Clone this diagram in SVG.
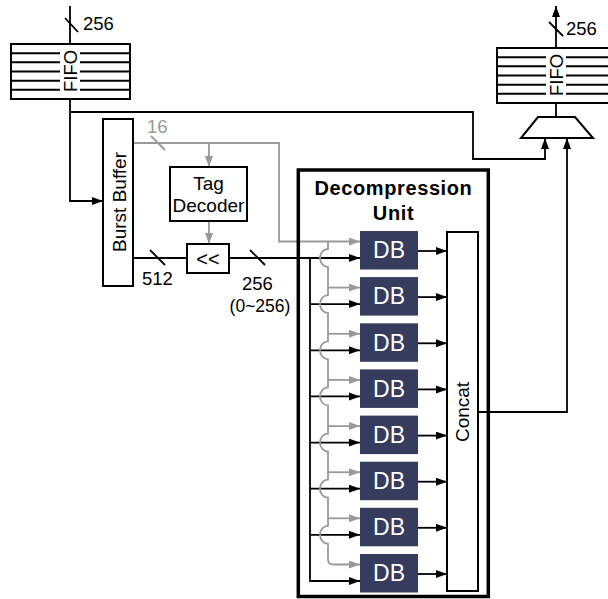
<svg xmlns="http://www.w3.org/2000/svg" width="608" height="599" viewBox="0 0 608 599">
<style>
text{font-family:"Liberation Sans",Arial,sans-serif;}
.lbl{font-size:18.5px;fill:#000;}
.glbl{font-size:18.5px;fill:#999;}
.box{fill:#fff;stroke:#000;stroke-width:2;}
.ln{fill:none;stroke:#000;stroke-width:1.8;}
.gln{fill:none;stroke:#999;stroke-width:1.8;}
.fl{stroke:#000;stroke-width:2;}
.db{fill:#353c5e;}
.dbt{font-size:23px;fill:#fff;text-anchor:middle;}
.ctr{text-anchor:middle;}
</style>
<defs>
<marker id="ab" markerUnits="userSpaceOnUse" markerWidth="12" markerHeight="9" refX="11" refY="4" orient="auto"><path d="M0,0 L11,4 L0,8 z" fill="#000"/></marker>
<marker id="ag" markerUnits="userSpaceOnUse" markerWidth="12" markerHeight="9" refX="11" refY="4" orient="auto"><path d="M0,0 L11,4 L0,8 z" fill="#999"/></marker>
</defs>

<g id="connectors">
  <line class="ln" x1="70" y1="6" x2="70" y2="44"/>
  <line class="ln" x1="65" y1="18" x2="78" y2="32"/>
  <text class="lbl" x="83" y="30">256</text>
  <path class="ln" d="M70,99 V201 H103" marker-end="url(#ab)"/>
  <path class="ln" d="M70,112 H473 V159 H545 V138" marker-end="url(#ab)"/>
  <line class="ln" x1="556" y1="103" x2="556" y2="117"/>
  <path class="ln" d="M556,48 V6" marker-end="url(#ab)"/>
  <line class="ln" x1="549" y1="22" x2="563" y2="36"/>
  <text class="lbl" x="566" y="35">256</text>
  <path class="gln" d="M133,143 H279 V241.5 H360" marker-end="url(#ag)"/>
  <line class="gln" x1="151" y1="136" x2="165" y2="150"/>
  <text class="glbl" x="147" y="133">16</text>
  <path class="gln" d="M209,143 V167" marker-end="url(#ag)"/>
  <path class="gln" d="M209,221 V244" marker-end="url(#ag)"/>
  <line class="ln" x1="133" y1="258" x2="187" y2="258"/>
  <line class="ln" x1="150" y1="250" x2="165" y2="265"/>
  <text class="lbl" x="142" y="285">512</text>
  <path class="ln" d="M229,258 H360" marker-end="url(#ab)"/>
  <line class="ln" x1="250" y1="250" x2="265" y2="265"/>
  <text class="lbl" x="242" y="290">256</text>
  <text class="ctr" style="font-size:17.5px" x="260" y="312">(0~256)</text>
  <path class="ln" d="M310,258 V581 H360" marker-end="url(#ab)"/>
  <path class="ln" d="M310,304.1 H360" marker-end="url(#ab)"/>
  <path class="ln" d="M310,350.3 H360" marker-end="url(#ab)"/>
  <path class="ln" d="M310,396.4 H360" marker-end="url(#ab)"/>
  <path class="ln" d="M310,442.6 H360" marker-end="url(#ab)"/>
  <path class="ln" d="M310,488.7 H360" marker-end="url(#ab)"/>
  <path class="ln" d="M310,534.8 H360" marker-end="url(#ab)"/>
  <path class="gln" d="M328,241.5 V249 A8,9 0 0 0 328,267 V295.1 A8,9 0 0 0 328,313.1 V341.3 A8,9 0 0 0 328,359.3 V387.4 A8,9 0 0 0 328,405.4 V433.6 A8,9 0 0 0 328,451.6 V479.7 A8,9 0 0 0 328,497.7 V525.8 A8,9 0 0 0 328,543.8 V559.5 Q328,564.5 333,564.5 H360" marker-end="url(#ag)"/>
  <path class="gln" d="M328,287.6 H360" marker-end="url(#ag)"/>
  <path class="gln" d="M328,333.8 H360" marker-end="url(#ag)"/>
  <path class="gln" d="M328,379.9 H360" marker-end="url(#ag)"/>
  <path class="gln" d="M328,426.1 H360" marker-end="url(#ag)"/>
  <path class="gln" d="M328,472.2 H360" marker-end="url(#ag)"/>
  <path class="gln" d="M328,518.3 H360" marker-end="url(#ag)"/>
  <path class="ln" d="M418,251 H447" marker-end="url(#ab)"/>
  <path class="ln" d="M418,297.1 H447" marker-end="url(#ab)"/>
  <path class="ln" d="M418,343.3 H447" marker-end="url(#ab)"/>
  <path class="ln" d="M418,389.4 H447" marker-end="url(#ab)"/>
  <path class="ln" d="M418,435.6 H447" marker-end="url(#ab)"/>
  <path class="ln" d="M418,481.7 H447" marker-end="url(#ab)"/>
  <path class="ln" d="M418,527.8 H447" marker-end="url(#ab)"/>
  <path class="ln" d="M418,574 H447" marker-end="url(#ab)"/>
  <path class="ln" d="M478,412 H567 V138" marker-end="url(#ab)"/>
</g>

<g id="fifo-in">
  <rect class="box" x="11" y="44" width="119" height="55"/>
  <g class="fl">
    <line x1="11" y1="53.2" x2="60" y2="53.2"/><line x1="80" y1="53.2" x2="130" y2="53.2"/>
    <line x1="11" y1="62.3" x2="60" y2="62.3"/><line x1="80" y1="62.3" x2="130" y2="62.3"/>
    <line x1="11" y1="71.5" x2="60" y2="71.5"/><line x1="80" y1="71.5" x2="130" y2="71.5"/>
    <line x1="11" y1="80.7" x2="60" y2="80.7"/><line x1="80" y1="80.7" x2="130" y2="80.7"/>
    <line x1="11" y1="89.8" x2="60" y2="89.8"/><line x1="80" y1="89.8" x2="130" y2="89.8"/>
  </g>
  <text class="lbl ctr" transform="translate(77,71) rotate(-90)">FIFO</text>
</g>

<g id="fifo-out">
  <rect class="box" x="497" y="48" width="119" height="55"/>
  <g class="fl">
    <line x1="497" y1="57.2" x2="546" y2="57.2"/><line x1="566" y1="57.2" x2="616" y2="57.2"/>
    <line x1="497" y1="66.3" x2="546" y2="66.3"/><line x1="566" y1="66.3" x2="616" y2="66.3"/>
    <line x1="497" y1="75.5" x2="546" y2="75.5"/><line x1="566" y1="75.5" x2="616" y2="75.5"/>
    <line x1="497" y1="84.7" x2="546" y2="84.7"/><line x1="566" y1="84.7" x2="616" y2="84.7"/>
    <line x1="497" y1="93.8" x2="546" y2="93.8"/><line x1="566" y1="93.8" x2="616" y2="93.8"/>
  </g>
  <text class="lbl ctr" transform="translate(563,75) rotate(-90)">FIFO</text>
</g>

<g id="mux">
  <polygon class="box" points="538,117 575,117 593,138 521,138"/>
</g>

<g id="burst-buffer">
  <rect class="box" x="103" y="119" width="30" height="167"/>
  <text class="ctr" style="font-size:19px" transform="translate(125.5,202) rotate(-90)">Burst Buffer</text>
</g>

<g id="tag-decoder">
  <rect class="box" x="170" y="167" width="77" height="54"/>
  <text class="ctr" style="font-size:19px" x="208.5" y="190">Tag</text>
  <text class="ctr" style="font-size:19px" x="208.5" y="212">Decoder</text>
</g>

<g id="shifter">
  <rect class="box" x="187" y="244" width="42" height="29"/>
  <text class="ctr" style="font-size:20px" x="208" y="266">&lt;&lt;</text>
</g>

<g id="decompression-unit">
  <rect x="298.3" y="170" width="190" height="426.5" fill="none" stroke="#000" stroke-width="3.5"/>
  <text class="ctr" style="font-size:20px;font-weight:bold;letter-spacing:0.6px" x="393.5" y="195">Decompression</text>
  <text class="ctr" style="font-size:20px;font-weight:bold;letter-spacing:0.6px" x="393.5" y="220">Unit</text>
</g>

<g id="db1"><rect class="db" x="360" y="231" width="58" height="38.5"/><text class="dbt" x="389" y="258.3">DB</text></g>
<g id="db2"><rect class="db" x="360" y="277.1" width="58" height="38.5"/><text class="dbt" x="389" y="304.4">DB</text></g>
<g id="db3"><rect class="db" x="360" y="323.3" width="58" height="38.5"/><text class="dbt" x="389" y="350.6">DB</text></g>
<g id="db4"><rect class="db" x="360" y="369.4" width="58" height="38.5"/><text class="dbt" x="389" y="396.7">DB</text></g>
<g id="db5"><rect class="db" x="360" y="415.6" width="58" height="38.5"/><text class="dbt" x="389" y="442.9">DB</text></g>
<g id="db6"><rect class="db" x="360" y="461.7" width="58" height="38.5"/><text class="dbt" x="389" y="489">DB</text></g>
<g id="db7"><rect class="db" x="360" y="507.8" width="58" height="38.5"/><text class="dbt" x="389" y="535.1">DB</text></g>
<g id="db8"><rect class="db" x="360" y="554" width="58" height="38.5"/><text class="dbt" x="389" y="581.3">DB</text></g>

<g id="concat">
  <rect class="box" x="447" y="232" width="31" height="359"/>
  <text class="ctr" style="font-size:19px" transform="translate(468.5,412) rotate(-90)">Concat</text>
</g>
</svg>
